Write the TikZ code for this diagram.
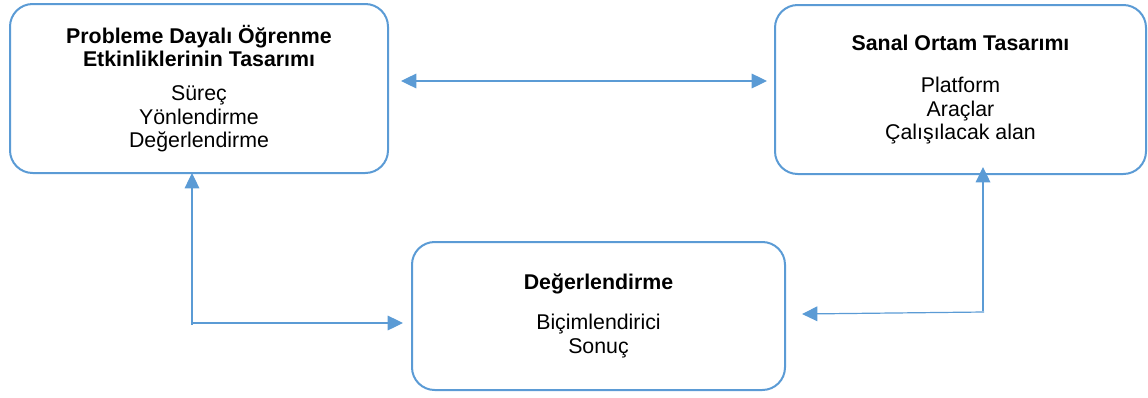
\documentclass[tikz,border=0pt]{standalone}
\usepackage{fontspec}
\setmainfont{Liberation Sans}
\usetikzlibrary{arrows.meta,calc,positioning}
\definecolor{boxblue}{HTML}{5B9BD5}

\begin{document}
\begin{tikzpicture}[x=0.75pt,y=-0.75pt,line join=round,
  kutu/.style={draw=boxblue,line width=1.5pt,rounded corners=17pt,outer sep=0pt,
    align=center,font=\fontsize{16}{17.5}\selectfont},
  ok/.style={draw=boxblue,line width=0.9pt,>={Triangle[length=11.5pt,width=11pt]},->}]
\useasboundingbox (0,0) rectangle (1148,397);
\node[kutu,minimum width=283.5pt,minimum height=126.75pt] (tasarim) at (199,88.5)
  {\textbf{Probleme Dayalı Öğrenme}\\ \textbf{Etkinliklerinin Tasarımı}\\[8pt]
   Süreç\\ Yönlendirme\\ Değerlendirme};
\node[kutu,minimum width=278.25pt,minimum height=126.75pt] (ortam) at (960.5,89.5)
  {\textbf{Sanal Ortam Tasarımı}\\[14.5pt] Platform\\ Araçlar\\ Çalışılacak alan};
\node[kutu,minimum width=279.75pt,minimum height=111pt] (deger) at (598.5,316)
  {\textbf{Değerlendirme}\\[12.5pt] Biçimlendirici\\ Sonuç};
% baglantilar
\coordinate (sol) at (192,325);
\coordinate (sag) at (983,311);
\draw[ok,<->] ($(tasarim.east)+(13,-7.5)$) -- ($(ortam.west)+(-8,-8.5)$);
\draw[ok] (sol) -- (sol |- tasarim.south);
\draw[ok] ($(sol)+(1,-2)$) -- ($(deger.west |- sol)+(-9,-2)$);
\draw[ok] (sag) -- ($(sag |- ortam.south)+(0,-7)$);
\draw[ok] ($(sag)+(1,1)$) -- ($(deger.east |- sag)+(17,3)$);
\end{tikzpicture}
\end{document}
